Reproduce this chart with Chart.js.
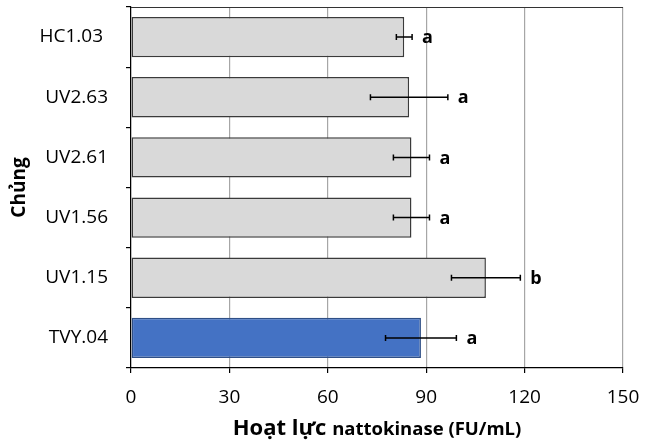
<!DOCTYPE html>
<html>
<head>
<meta charset="utf-8">
<script src="https://cdn.jsdelivr.net/npm/chart.js@4.4.0/dist/chart.umd.min.js"></script>
<style>
  html, body { margin: 0; padding: 0; background: #fff; }
  #wrap { width: 648px; height: 441px; }
</style>
</head>
<body>
<div id="wrap"><canvas id="chart" width="648" height="441"></canvas></div>
<script>
const strains = ["HC1.03 ", "UV2.63", "UV2.61", "UV1.56", "UV1.15", "TVY.04"];
const activity = [83.3, 84.8, 85.5, 85.5, 108.2, 88.4];
const sd = [2.4, 11.8, 5.5, 5.5, 10.5, 10.8];
const groups = ["a", "a", "a", "a", "b", "a"];
const xTicks = [0, 30, 60, 90, 120, 150];

const FONT = "'Open Sans', 'DejaVu Sans', sans-serif";

// error bars + significance letters
const errorBars = {
  id: "errorBars",
  afterDatasetsDraw(chart) {
    const { ctx, scales } = chart;
    const meta = chart.getDatasetMeta(0);
    ctx.save();
    ctx.strokeStyle = "#000";
    ctx.lineWidth = 1.5;
    meta.data.forEach((bar, i) => {
      const y = bar.y;
      const x1 = scales.x.getPixelForValue(activity[i] - sd[i]);
      const x2 = scales.x.getPixelForValue(activity[i] + sd[i]);
      ctx.beginPath();
      ctx.moveTo(x1, y); ctx.lineTo(x2, y);
      ctx.moveTo(x1, y - 3); ctx.lineTo(x1, y + 3);
      ctx.moveTo(x2, y - 3); ctx.lineTo(x2, y + 3);
      ctx.stroke();
      ctx.fillStyle = "#000";
      ctx.font = "bold 18px " + FONT;
      ctx.textBaseline = "middle";
      ctx.textAlign = "left";
      ctx.fillText(groups[i], x2 + 10, y + 1);
    });
    ctx.restore();
  }
};

// top frame line and mixed-size x title
const frame = {
  id: "frame",
  afterDraw(chart) {
    const { ctx, chartArea } = chart;
    ctx.save();
    ctx.strokeStyle = "#333";
    ctx.lineWidth = 1;
    ctx.beginPath();
    ctx.moveTo(chartArea.left, chartArea.top + 0.5);
    ctx.lineTo(chartArea.right, chartArea.top + 0.5);
    ctx.stroke();

    const big = "Hoạt lực ";
    const small = "nattokinase (FU/mL)";
    ctx.fillStyle = "#000";
    ctx.textBaseline = "alphabetic";
    ctx.font = "bold 22px " + FONT;
    const w1 = ctx.measureText(big).width;
    ctx.font = "bold 18.5px " + FONT;
    const w2 = ctx.measureText(small).width;
    const cx = (chartArea.left + chartArea.right) / 2;
    let x = cx - (w1 + w2) / 2;
    ctx.textAlign = "left";
    ctx.font = "bold 22px " + FONT;
    ctx.fillText(big, x, 435);
    ctx.font = "bold 18.5px " + FONT;
    ctx.fillText(small, x + w1, 435);
    ctx.restore();
  }
};

new Chart(document.getElementById("chart"), {
  type: "bar",
  data: {
    labels: strains,
    datasets: [{
      data: activity,
      backgroundColor: strains.map((s, i) => i === strains.length - 1 ? "#4472c4" : "#d9d9d9"),
      borderColor: strains.map((s, i) => i === strains.length - 1 ? "#2f4f86" : "#3a3a3a"),
      borderWidth: 1.5,
      borderSkipped: false,
      categoryPercentage: 1,
      barPercentage: 0.67
    }]
  },
  options: {
    indexAxis: "y",
    responsive: false,
    animation: false,
    devicePixelRatio: 1,
    layout: { padding: { top: 7, right: 25, left: 8, bottom: 0 } },
    plugins: { legend: { display: false }, tooltip: { enabled: false } },
    scales: {
      x: {
        min: 0,
        max: 150,
        afterBuildTicks(scale) { scale.ticks = xTicks.map(v => ({ value: v })); },
        afterFit(scale) {
          scale.height = 73;
          scale.paddingLeft = 0;
          scale.paddingRight = 0;
        },
        ticks: { color: "#000", font: { family: FONT, size: 19 }, padding: 13 },
        grid: { color: "#a6a6a6", lineWidth: 1.2, tickColor: "#000", tickLength: 5 },
        border: { color: "#000", width: 1.2 }
      },
      y: {
        afterFit(scale) {
          scale.width = 123;
          scale.paddingTop = 0;
          scale.paddingBottom = 0;
        },
        ticks: { color: "#000", font: { family: FONT, size: 19 }, padding: 18 },
        grid: { offset: true, drawOnChartArea: false, tickColor: "#000", tickLength: 5, lineWidth: 1.2 },
        border: { color: "#000", width: 1.2 },
        title: { display: true, text: "Chủng", color: "#000", font: { family: FONT, size: 19, weight: "bold" }, padding: 0 }
      }
    }
  },
  plugins: [errorBars, frame]
});
</script>
</body>
</html>
